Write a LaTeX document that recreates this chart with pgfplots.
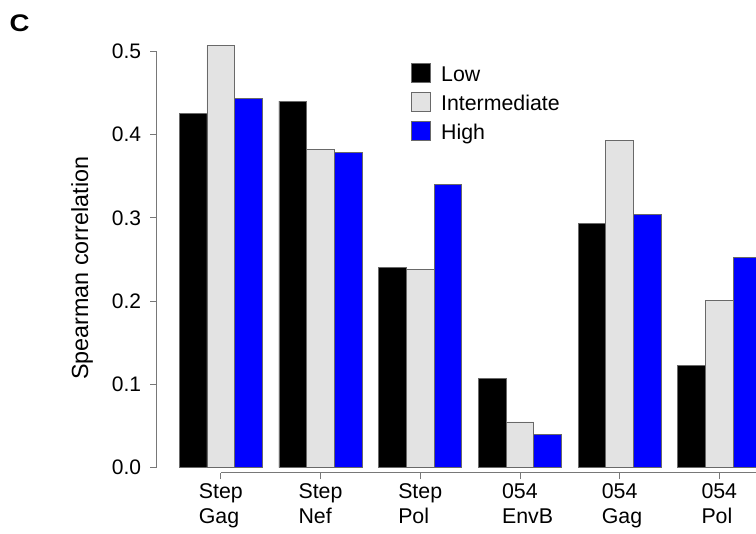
\documentclass[border=0pt]{standalone}
\usepackage{fontspec}
\setmainfont{Liberation Sans}
\usepackage{graphicx}
\usepackage{pgfplots}
\pgfplotsset{compat=1.18}

\definecolor{baredge}{RGB}{105,105,105}
\definecolor{axisgray}{RGB}{120,120,120}
\definecolor{lowc}{RGB}{0,0,0}
\definecolor{midc}{RGB}{227,227,227}
\definecolor{highc}{RGB}{0,0,255}

% square legend keys
\pgfplotsset{
  ybar legend/.style={legend image code/.code={\draw[##1] (0pt,-7.4pt) rectangle (14pt,6.85pt);}},
}

\begin{document}
\begin{tikzpicture}
\begin{axis}[
  x=74.775pt, y=624.75pt,
  xmin=-0.643, xmax=5.368, ymin=-0.006, ymax=0.5615,
  axis x line=bottom, axis y line=left,
  axis line style={draw=none},
  clip=false,
  ybar=0pt, bar width=0.2778,
  xtick={0,1,2,3,4,5},
  xticklabels={{Step\\Gag},{Step\\Nef},{Step\\Pol},{054\\\rlap{EnvB}},{054\\\rlap{Gag}},{054\\Pol}},
  ytick={0,0.1,0.2,0.3,0.4,0.5},
  tick align=outside, major tick length=4.8pt,
  tick style={axisgray, line width=0.6pt},
  /pgf/number format/assume math mode=true,
  yticklabel style={font=\fontsize{15.75pt}{18.9pt}\selectfont, anchor=east, xshift=-3.4pt,
    /pgf/number format/.cd, fixed, fixed zerofill, precision=1},
  xticklabel style={font=\fontsize{16pt}{18.4pt}\selectfont, align=left, anchor=north},
  legend style={at={(0.4244,0.8665)}, anchor=north west, draw=none, fill=none,
    inner sep=0pt, outer sep=0pt, column sep=8pt, row sep=6.7pt,
    font=\fontsize{16pt}{19pt}\selectfont,
    nodes={inner sep=0pt, text height=14pt, text depth=0pt}},
  legend cell align=left,
]
\addplot[fill=lowc, draw=baredge, line width=0.6pt]
  coordinates {(0,0.425) (1,0.440) (2,0.240) (3,0.107) (4,0.293) (5,0.123)};
\addplot[fill=midc, draw=baredge, line width=0.6pt]
  coordinates {(0,0.507) (1,0.382) (2,0.238) (3,0.055) (4,0.393) (5,0.201)};
\addplot[fill=highc, draw=baredge, line width=0.6pt]
  coordinates {(0,0.443) (1,0.378) (2,0.340) (3,0.0405) (4,0.304) (5,0.252)};
\legend{Low,Intermediate,High}

% axis lines in the style of base graphics
\draw[axisgray, line width=0.6pt] (axis cs:-0.643,0) -- (axis cs:-0.643,0.5);
\draw[axisgray, line width=0.6pt] (axis cs:0,-0.006) -- (axis cs:5.6,-0.006);

\node[rotate=90, font=\fontsize{17.5pt}{21pt}\selectfont] at (axis cs:-1.392,0.2394) {Spearman correlation};
\node[font=\fontsize{18pt}{21pt}\selectfont\bfseries] at (axis cs:-2.017,0.5341) {\scalebox{1.15}[1]{C}};

\coordinate (bbtl) at (axis cs:-2.2146,0.5615);
\coordinate (bbbr) at (axis cs:5.3681,-0.0784);
\end{axis}
\pgfresetboundingbox
\path[use as bounding box] (bbtl) rectangle (bbbr);
\end{tikzpicture}
\end{document}
